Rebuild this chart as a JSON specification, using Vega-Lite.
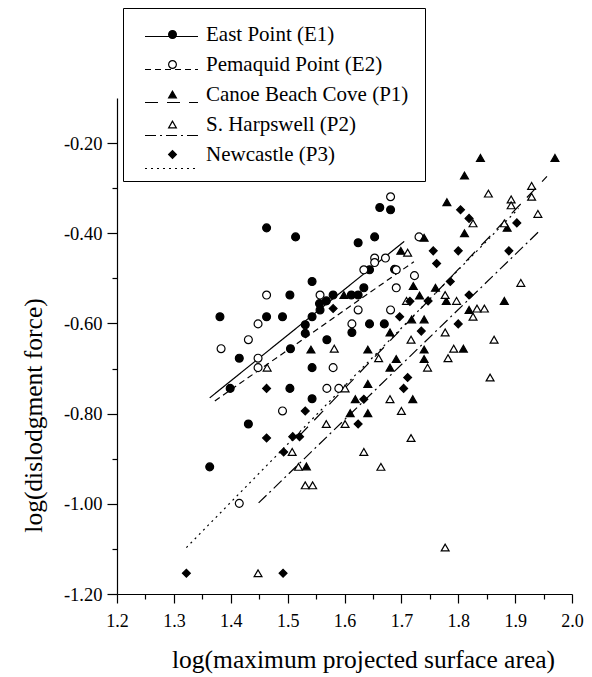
{
  "$schema": "https://vega.github.io/schema/vega-lite/v6.json",
  "autosize": {"type": "none"},
  "width": 455,
  "height": 496,
  "padding": {"left": 117, "top": 98, "right": 20, "bottom": 83},
  "background": "white",
  "config": {
    "view": {"stroke": null},
    "font": "Liberation Serif",
    "axis": {"grid": false, "domainColor": "black", "tickColor": "black", "labelColor": "black", "titleColor": "black", "domainWidth": 1.2, "tickWidth": 1.2, "labelFont": "Liberation Serif", "titleFont": "Liberation Serif", "titleFontWeight": "normal"}
  },
  "datasets": {
    "pts": [
      {"s": "East Point (E1)", "x": 1.381, "y": -0.585},
      {"s": "East Point (E1)", "x": 1.463, "y": -0.388},
      {"s": "East Point (E1)", "x": 1.514, "y": -0.408},
      {"s": "East Point (E1)", "x": 1.463, "y": -0.585},
      {"s": "East Point (E1)", "x": 1.491, "y": -0.585},
      {"s": "East Point (E1)", "x": 1.415, "y": -0.677},
      {"s": "East Point (E1)", "x": 1.399, "y": -0.744},
      {"s": "East Point (E1)", "x": 1.431, "y": -0.823},
      {"s": "East Point (E1)", "x": 1.363, "y": -0.918},
      {"s": "East Point (E1)", "x": 1.504, "y": -0.537},
      {"s": "East Point (E1)", "x": 1.505, "y": -0.656},
      {"s": "East Point (E1)", "x": 1.504, "y": -0.744},
      {"s": "East Point (E1)", "x": 1.543, "y": -0.507},
      {"s": "East Point (E1)", "x": 1.543, "y": -0.585},
      {"s": "East Point (E1)", "x": 1.543, "y": -0.698},
      {"s": "East Point (E1)", "x": 1.543, "y": -0.767},
      {"s": "East Point (E1)", "x": 1.531, "y": -0.603},
      {"s": "East Point (E1)", "x": 1.531, "y": -0.622},
      {"s": "East Point (E1)", "x": 1.556, "y": -0.556},
      {"s": "East Point (E1)", "x": 1.568, "y": -0.55},
      {"s": "East Point (E1)", "x": 1.557, "y": -0.57},
      {"s": "East Point (E1)", "x": 1.58, "y": -0.537},
      {"s": "East Point (E1)", "x": 1.569, "y": -0.636},
      {"s": "East Point (E1)", "x": 1.624, "y": -0.421},
      {"s": "East Point (E1)", "x": 1.653, "y": -0.408},
      {"s": "East Point (E1)", "x": 1.634, "y": -0.521},
      {"s": "East Point (E1)", "x": 1.644, "y": -0.481},
      {"s": "East Point (E1)", "x": 1.644, "y": -0.601},
      {"s": "East Point (E1)", "x": 1.612, "y": -0.537},
      {"s": "East Point (E1)", "x": 1.624, "y": -0.537},
      {"s": "East Point (E1)", "x": 1.613, "y": -0.62},
      {"s": "East Point (E1)", "x": 1.67, "y": -0.601},
      {"s": "East Point (E1)", "x": 1.662, "y": -0.343},
      {"s": "East Point (E1)", "x": 1.681, "y": -0.348},
      {"s": "East Point (E1)", "x": 1.688, "y": -0.48},
      {"s": "Pemaquid Point (E2)", "x": 1.681, "y": -0.319},
      {"s": "Pemaquid Point (E2)", "x": 1.731, "y": -0.408},
      {"s": "Pemaquid Point (E2)", "x": 1.463, "y": -0.537},
      {"s": "Pemaquid Point (E2)", "x": 1.448, "y": -0.601},
      {"s": "Pemaquid Point (E2)", "x": 1.431, "y": -0.636},
      {"s": "Pemaquid Point (E2)", "x": 1.383, "y": -0.656},
      {"s": "Pemaquid Point (E2)", "x": 1.448, "y": -0.677},
      {"s": "Pemaquid Point (E2)", "x": 1.448, "y": -0.698},
      {"s": "Pemaquid Point (E2)", "x": 1.491, "y": -0.794},
      {"s": "Pemaquid Point (E2)", "x": 1.415, "y": -0.999},
      {"s": "Pemaquid Point (E2)", "x": 1.557, "y": -0.537},
      {"s": "Pemaquid Point (E2)", "x": 1.58, "y": -0.698},
      {"s": "Pemaquid Point (E2)", "x": 1.569, "y": -0.744},
      {"s": "Pemaquid Point (E2)", "x": 1.59, "y": -0.744},
      {"s": "Pemaquid Point (E2)", "x": 1.613, "y": -0.601},
      {"s": "Pemaquid Point (E2)", "x": 1.624, "y": -0.57},
      {"s": "Pemaquid Point (E2)", "x": 1.634, "y": -0.481},
      {"s": "Pemaquid Point (E2)", "x": 1.653, "y": -0.455},
      {"s": "Pemaquid Point (E2)", "x": 1.672, "y": -0.455},
      {"s": "Pemaquid Point (E2)", "x": 1.653, "y": -0.465},
      {"s": "Pemaquid Point (E2)", "x": 1.691, "y": -0.481},
      {"s": "Pemaquid Point (E2)", "x": 1.691, "y": -0.521},
      {"s": "Pemaquid Point (E2)", "x": 1.681, "y": -0.57},
      {"s": "Pemaquid Point (E2)", "x": 1.723, "y": -0.494},
      {"s": "Canoe Beach Cove (P1)", "x": 1.839, "y": -0.233},
      {"s": "Canoe Beach Cove (P1)", "x": 1.97, "y": -0.233},
      {"s": "Canoe Beach Cove (P1)", "x": 1.811, "y": -0.272},
      {"s": "Canoe Beach Cove (P1)", "x": 1.78, "y": -0.331},
      {"s": "Canoe Beach Cove (P1)", "x": 1.811, "y": -0.4},
      {"s": "Canoe Beach Cove (P1)", "x": 1.74, "y": -0.41},
      {"s": "Canoe Beach Cove (P1)", "x": 1.699, "y": -0.439},
      {"s": "Canoe Beach Cove (P1)", "x": 1.76, "y": -0.521},
      {"s": "Canoe Beach Cove (P1)", "x": 1.721, "y": -0.517},
      {"s": "Canoe Beach Cove (P1)", "x": 1.732, "y": -0.538},
      {"s": "Canoe Beach Cove (P1)", "x": 1.779, "y": -0.55},
      {"s": "Canoe Beach Cove (P1)", "x": 1.819, "y": -0.57},
      {"s": "Canoe Beach Cove (P1)", "x": 1.881, "y": -0.55},
      {"s": "Canoe Beach Cove (P1)", "x": 1.886, "y": -0.388},
      {"s": "Canoe Beach Cove (P1)", "x": 1.599, "y": -0.537},
      {"s": "Canoe Beach Cove (P1)", "x": 1.718, "y": -0.591},
      {"s": "Canoe Beach Cove (P1)", "x": 1.74, "y": -0.591},
      {"s": "Canoe Beach Cove (P1)", "x": 1.68, "y": -0.62},
      {"s": "Canoe Beach Cove (P1)", "x": 1.691, "y": -0.679},
      {"s": "Canoe Beach Cove (P1)", "x": 1.68, "y": -0.698},
      {"s": "Canoe Beach Cove (P1)", "x": 1.74, "y": -0.658},
      {"s": "Canoe Beach Cove (P1)", "x": 1.74, "y": -0.679},
      {"s": "Canoe Beach Cove (P1)", "x": 1.641, "y": -0.658},
      {"s": "Canoe Beach Cove (P1)", "x": 1.541, "y": -0.658},
      {"s": "Canoe Beach Cove (P1)", "x": 1.641, "y": -0.734},
      {"s": "Canoe Beach Cove (P1)", "x": 1.619, "y": -0.768},
      {"s": "Canoe Beach Cove (P1)", "x": 1.61, "y": -0.799},
      {"s": "Canoe Beach Cove (P1)", "x": 1.641, "y": -0.799},
      {"s": "Canoe Beach Cove (P1)", "x": 1.72, "y": -0.768},
      {"s": "Canoe Beach Cove (P1)", "x": 1.533, "y": -0.917},
      {"s": "Canoe Beach Cove (P1)", "x": 1.809, "y": -0.656},
      {"s": "S. Harpswell (P2)", "x": 1.853, "y": -0.312},
      {"s": "S. Harpswell (P2)", "x": 1.929, "y": -0.295},
      {"s": "S. Harpswell (P2)", "x": 1.929, "y": -0.319},
      {"s": "S. Harpswell (P2)", "x": 1.94, "y": -0.357},
      {"s": "S. Harpswell (P2)", "x": 1.893, "y": -0.325},
      {"s": "S. Harpswell (P2)", "x": 1.893, "y": -0.338},
      {"s": "S. Harpswell (P2)", "x": 1.826, "y": -0.378},
      {"s": "S. Harpswell (P2)", "x": 1.881, "y": -0.378},
      {"s": "S. Harpswell (P2)", "x": 1.91, "y": -0.51},
      {"s": "S. Harpswell (P2)", "x": 1.711, "y": -0.443},
      {"s": "S. Harpswell (P2)", "x": 1.709, "y": -0.55},
      {"s": "S. Harpswell (P2)", "x": 1.777, "y": -0.537},
      {"s": "S. Harpswell (P2)", "x": 1.797, "y": -0.55},
      {"s": "S. Harpswell (P2)", "x": 1.826, "y": -0.585},
      {"s": "S. Harpswell (P2)", "x": 1.833, "y": -0.567},
      {"s": "S. Harpswell (P2)", "x": 1.846, "y": -0.567},
      {"s": "S. Harpswell (P2)", "x": 1.863, "y": -0.636},
      {"s": "S. Harpswell (P2)", "x": 1.856, "y": -0.72},
      {"s": "S. Harpswell (P2)", "x": 1.777, "y": -0.62},
      {"s": "S. Harpswell (P2)", "x": 1.782, "y": -0.677},
      {"s": "S. Harpswell (P2)", "x": 1.792, "y": -0.656},
      {"s": "S. Harpswell (P2)", "x": 1.717, "y": -0.636},
      {"s": "S. Harpswell (P2)", "x": 1.746, "y": -0.698},
      {"s": "S. Harpswell (P2)", "x": 1.66, "y": -0.677},
      {"s": "S. Harpswell (P2)", "x": 1.68, "y": -0.768},
      {"s": "S. Harpswell (P2)", "x": 1.7, "y": -0.794},
      {"s": "S. Harpswell (P2)", "x": 1.717, "y": -0.854},
      {"s": "S. Harpswell (P2)", "x": 1.664, "y": -0.918},
      {"s": "S. Harpswell (P2)", "x": 1.634, "y": -0.885},
      {"s": "S. Harpswell (P2)", "x": 1.601, "y": -0.823},
      {"s": "S. Harpswell (P2)", "x": 1.568, "y": -0.823},
      {"s": "S. Harpswell (P2)", "x": 1.601, "y": -0.744},
      {"s": "S. Harpswell (P2)", "x": 1.582, "y": -0.656},
      {"s": "S. Harpswell (P2)", "x": 1.464, "y": -0.698},
      {"s": "S. Harpswell (P2)", "x": 1.508, "y": -0.885},
      {"s": "S. Harpswell (P2)", "x": 1.519, "y": -0.918},
      {"s": "S. Harpswell (P2)", "x": 1.531, "y": -0.959},
      {"s": "S. Harpswell (P2)", "x": 1.544, "y": -0.959},
      {"s": "S. Harpswell (P2)", "x": 1.448, "y": -1.154},
      {"s": "S. Harpswell (P2)", "x": 1.777, "y": -1.097},
      {"s": "Newcastle (P3)", "x": 1.804, "y": -0.348},
      {"s": "Newcastle (P3)", "x": 1.819, "y": -0.367},
      {"s": "Newcastle (P3)", "x": 1.903, "y": -0.377},
      {"s": "Newcastle (P3)", "x": 1.756, "y": -0.439},
      {"s": "Newcastle (P3)", "x": 1.762, "y": -0.467},
      {"s": "Newcastle (P3)", "x": 1.8, "y": -0.439},
      {"s": "Newcastle (P3)", "x": 1.786, "y": -0.507},
      {"s": "Newcastle (P3)", "x": 1.819, "y": -0.537},
      {"s": "Newcastle (P3)", "x": 1.889, "y": -0.439},
      {"s": "Newcastle (P3)", "x": 1.8, "y": -0.601},
      {"s": "Newcastle (P3)", "x": 1.747, "y": -0.55},
      {"s": "Newcastle (P3)", "x": 1.715, "y": -0.551},
      {"s": "Newcastle (P3)", "x": 1.697, "y": -0.585},
      {"s": "Newcastle (P3)", "x": 1.735, "y": -0.617},
      {"s": "Newcastle (P3)", "x": 1.711, "y": -0.72},
      {"s": "Newcastle (P3)", "x": 1.704, "y": -0.744},
      {"s": "Newcastle (P3)", "x": 1.58, "y": -0.567},
      {"s": "Newcastle (P3)", "x": 1.531, "y": -0.794},
      {"s": "Newcastle (P3)", "x": 1.624, "y": -0.823},
      {"s": "Newcastle (P3)", "x": 1.634, "y": -0.768},
      {"s": "Newcastle (P3)", "x": 1.463, "y": -0.744},
      {"s": "Newcastle (P3)", "x": 1.463, "y": -0.854},
      {"s": "Newcastle (P3)", "x": 1.509, "y": -0.851},
      {"s": "Newcastle (P3)", "x": 1.521, "y": -0.851},
      {"s": "Newcastle (P3)", "x": 1.493, "y": -0.885},
      {"s": "Newcastle (P3)", "x": 1.322, "y": -1.154},
      {"s": "Newcastle (P3)", "x": 1.492, "y": -1.154}
    ],
    "fits": [
      {"s": "East Point (E1)", "x": 1.363, "y": -0.765},
      {"s": "East Point (E1)", "x": 1.705, "y": -0.418},
      {"s": "Pemaquid Point (E2)", "x": 1.372, "y": -0.772},
      {"s": "Pemaquid Point (E2)", "x": 1.722, "y": -0.463},
      {"s": "Canoe Beach Cove (P1)", "x": 1.52, "y": -0.85},
      {"s": "Canoe Beach Cove (P1)", "x": 1.956, "y": -0.274},
      {"s": "S. Harpswell (P2)", "x": 1.449, "y": -0.998},
      {"s": "S. Harpswell (P2)", "x": 1.941, "y": -0.397},
      {"s": "Newcastle (P3)", "x": 1.322, "y": -1.097},
      {"s": "Newcastle (P3)", "x": 1.906, "y": -0.345}
    ]
  },
  "resolve": {
    "axis": {"x": "independent", "y": "independent"}
  },
  "layer": [
    {
      "data": {"name": "fits"},
      "mark": {"type": "line", "stroke": "black", "strokeWidth": 1.2, "opacity": 1},
      "encoding": {
        "x": {"field": "x", "type": "quantitative", "scale": {"domain": [1.2, 2.0], "nice": false, "zero": false},
          "axis": {"orient": "bottom", "values": [1.25, 1.35, 1.45, 1.55, 1.65, 1.75, 1.85, 1.95], "tickSize": 5, "labels": false, "domain": false, "title": null}},
        "y": {"field": "y", "type": "quantitative", "scale": {"domain": [-1.2, -0.1], "nice": false, "zero": false},
          "axis": {"orient": "left", "values": [-1.1, -0.9, -0.7, -0.5, -0.3], "tickSize": 5, "labels": false, "domain": false, "title": null}},
        "detail": {"field": "s", "type": "nominal"},
        "strokeDash": {"field": "s", "type": "nominal",
          "sort": ["East Point (E1)", "Pemaquid Point (E2)", "Canoe Beach Cove (P1)", "S. Harpswell (P2)", "Newcastle (P3)"],
          "scale": {"range": [[1, 0], [6, 4], [13, 9], [11, 4, 2, 4], [2, 4]]},
          "legend": {"orient": "none", "legendX": 6, "legendY": -105, "title": null, "symbolType": "stroke", "symbolSize": 2809,
            "symbolStrokeWidth": 1.2, "symbolOffset": 5, "labelOffset": 10, "labelExpr": "''",
            "labelFont": "Liberation Serif", "labelFontSize": 1, "labelLimit": 400, "padding": 16, "rowPadding": 3}}
      }
    },
    {
      "data": {"name": "pts"},
      "transform": [{"filter": "datum.s === 'East Point (E1)'"}],
      "mark": {"type": "point", "shape": "circle", "fill": "black", "stroke": "black", "strokeWidth": 1.2, "size": 62, "opacity": 1},
      "encoding": {
        "x": {"field": "x", "type": "quantitative",
          "axis": {"orient": "bottom", "values": [1.2, 1.3, 1.4, 1.5, 1.6, 1.7, 1.8, 1.9, 2.0], "format": ".1f", "tickSize": 9, "labelFontSize": 18, "labelPadding": 9, "labelFlush": false,
            "title": "log(maximum projected surface area)", "titleFontSize": 25.5, "titlePadding": 17, "titleX": 246}},
        "y": {"field": "y", "type": "quantitative",
          "axis": {"orient": "left", "values": [-1.2, -1.0, -0.8, -0.6, -0.4, -0.2], "labelExpr": "replace(format(datum.value, '.2f'), '\u2212', '-')", "tickSize": 10, "labelFontSize": 18.5, "labelPadding": 5, "labelFlush": false,
            "title": "log(dislodgment force)", "titleFontSize": 25.5, "titlePadding": 17, "titleY": 317}}
      }
    },
    {
      "data": {"name": "pts"},
      "transform": [{"filter": "datum.s === 'Pemaquid Point (E2)'"}],
      "mark": {"type": "point", "shape": "circle", "fill": "white", "stroke": "black", "strokeWidth": 1.2, "size": 62, "opacity": 1},
      "encoding": {
        "x": {"field": "x", "type": "quantitative", "axis": null},
        "y": {"field": "y", "type": "quantitative", "axis": null}
      }
    },
    {
      "data": {"name": "pts"},
      "transform": [{"filter": "datum.s === 'Canoe Beach Cove (P1)'"}],
      "mark": {"type": "point", "shape": "triangle-up", "fill": "black", "stroke": "black", "strokeWidth": 1.2, "size": 62, "opacity": 1},
      "encoding": {
        "x": {"field": "x", "type": "quantitative", "axis": null},
        "y": {"field": "y", "type": "quantitative", "axis": null}
      }
    },
    {
      "data": {"name": "pts"},
      "transform": [{"filter": "datum.s === 'S. Harpswell (P2)'"}],
      "mark": {"type": "point", "shape": "triangle-up", "fill": "white", "stroke": "black", "strokeWidth": 1.2, "size": 62, "opacity": 1},
      "encoding": {
        "x": {"field": "x", "type": "quantitative", "axis": null},
        "y": {"field": "y", "type": "quantitative", "axis": null}
      }
    },
    {
      "data": {"name": "pts"},
      "transform": [{"filter": "datum.s === 'Newcastle (P3)'"}],
      "mark": {"type": "point", "shape": "diamond", "fill": "black", "stroke": "black", "strokeWidth": 1.2, "size": 62, "opacity": 1},
      "encoding": {
        "x": {"field": "x", "type": "quantitative", "axis": null},
        "y": {"field": "y", "type": "quantitative", "axis": null}
      }
    },
    {
      "data": {"name": "pts"},
      "transform": [{"filter": "false"}],
      "mark": {"type": "point", "filled": true, "stroke": "black", "strokeWidth": 1.2, "opacity": 1},
      "encoding": {
        "shape": {"field": "s", "type": "nominal",
          "scale": {"domain": ["East Point (E1)", "Pemaquid Point (E2)", "Canoe Beach Cove (P1)", "S. Harpswell (P2)", "Newcastle (P3)"],
            "range": ["circle", "circle", "triangle-up", "triangle-up", "diamond"]},
          "legend": {"orient": "none", "legendX": 6, "legendY": -90, "title": null, "symbolSize": 60, "symbolStrokeWidth": 1.2, "symbolOffset": 23, "labelOffset": 23,
            "labelFont": "Liberation Serif", "labelFontSize": 21, "labelColor": "black", "labelLimit": 400, "padding": 16, "rowPadding": 8,
            "strokeColor": "black"}},
        "fill": {"field": "s", "type": "nominal",
          "scale": {"domain": ["East Point (E1)", "Pemaquid Point (E2)", "Canoe Beach Cove (P1)", "S. Harpswell (P2)", "Newcastle (P3)"],
            "range": ["black", "white", "black", "white", "black"]},
          "legend": {"orient": "none", "legendX": 6, "legendY": -90, "title": null, "symbolSize": 60, "symbolStrokeWidth": 1.2, "symbolOffset": 23, "labelOffset": 23,
            "labelFont": "Liberation Serif", "labelFontSize": 21, "labelColor": "black", "labelLimit": 400, "padding": 16, "rowPadding": 8,
            "strokeColor": "black"}}
      }
    }
  ]
}
